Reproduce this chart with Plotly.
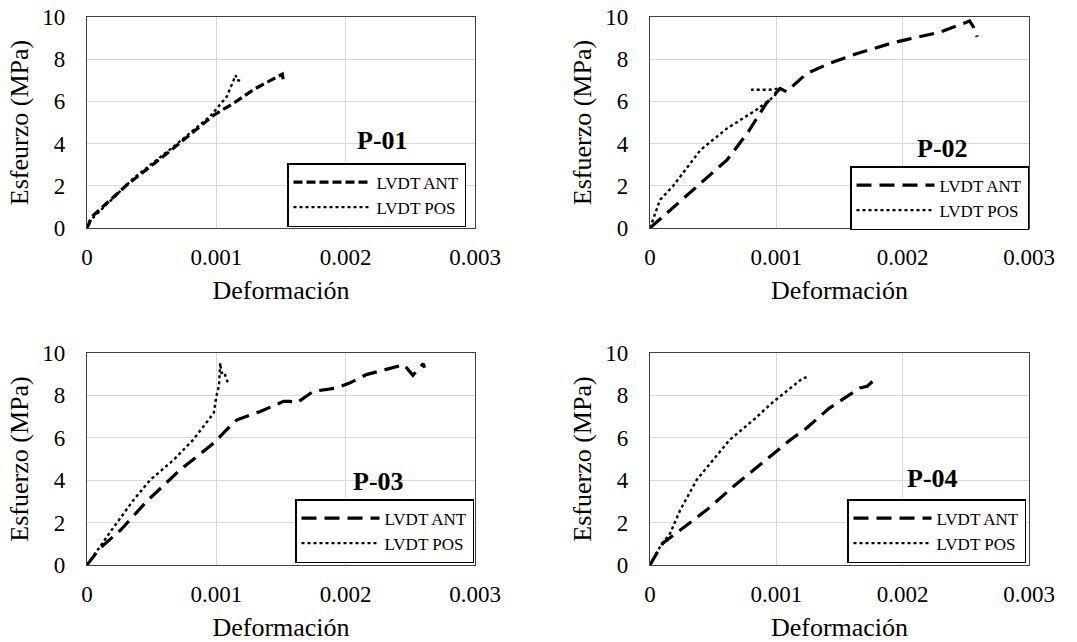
import plotly.graph_objects as go

FONT = "Liberation Serif"

# ---- data (strain, stress MPa) ----
p01_ant_x = [0, 0.00004, 0.00031, 0.00062, 0.00098, 0.00113, 0.00129, 0.00139, 0.00151, 0.00152]
p01_ant_y = [0, 0.55, 2.05, 3.54, 5.35, 5.90, 6.57, 6.88, 7.29, 6.93]
p01_pos_x = [0, 0.000005, 0.00036, 0.00067, 0.00095, 0.00108, 0.00115, 0.00116, 0.00119]
p01_pos_y = [0, 0.24, 2.36, 3.86, 5.28, 6.22, 7.24, 7.00, 6.98]

p02_ant_x = [0, 0.000105, 0.00037, 0.00061, 0.00077, 0.00092, 0.00103, 0.00108, 0.00124, 0.00142,
             0.00164, 0.0019, 0.00203, 0.0023, 0.00253, 0.00256, 0.00259]
p02_ant_y = [0, 0.55, 1.97, 3.23, 4.49, 5.90, 6.61, 6.46, 7.32, 7.80,
             8.27, 8.74, 8.93, 9.29, 9.81, 9.53, 9.06]
p02_pos_x = [0, 0.00008, 0.00018, 0.0004, 0.00061, 0.00084, 0.00098, 0.00103, 0.00095, 0.0008]
p02_pos_y = [0, 1.34, 1.97, 3.70, 4.72, 5.59, 6.22, 6.62, 6.55, 6.55]

p03_ant_x = [0, 0.0001, 0.00026, 0.00046, 0.00072, 0.00098, 0.00108, 0.00116, 0.00134, 0.00152,
             0.00157, 0.00162, 0.00175, 0.00188, 0.00193, 0.00203, 0.00216, 0.00232, 0.00245,
             0.00252, 0.00258, 0.0026, 0.00261]
p03_ant_y = [0, 0.79, 1.65, 2.99, 4.49, 5.75, 6.38, 6.85, 7.24, 7.72,
             7.72, 7.64, 8.19, 8.30, 8.35, 8.58, 8.98, 9.24, 9.45,
             8.95, 9.40, 9.50, 9.30]
p03_pos_x = [0, 0.0001, 0.0002, 0.00036, 0.00049, 0.00067, 0.00082, 0.00095, 0.00098, 0.001,
             0.00102, 0.00103, 0.00104, 0.00106, 0.00109]
p03_pos_y = [0, 0.87, 1.73, 3.07, 4.02, 4.96, 5.90, 6.93, 7.17, 7.95,
             8.43, 9.53, 9.06, 9.10, 8.58]

p04_ant_x = [0, 0.0001, 0.00024, 0.00045, 0.00066, 0.00092, 0.00111, 0.00124, 0.00142, 0.00156,
             0.00166, 0.00172, 0.00179, 0.0018]
p04_ant_y = [0, 1.02, 1.65, 2.60, 3.70, 4.96, 5.90, 6.46, 7.40, 7.95,
             8.35, 8.43, 8.82, 8.75]
p04_pos_x = [0, 0.00008, 0.00016, 0.00024, 0.00037, 0.0005, 0.00063, 0.00082, 0.00098, 0.00113,
             0.00121, 0.00124]
p04_pos_y = [0, 0.87, 1.50, 2.60, 4.02, 4.96, 5.90, 6.85, 7.72, 8.43,
             8.82, 8.85]

titles = ["P-01", "P-02", "P-03", "P-04"]
y_titles = ["Esfeurzo (MPa)", "Esfuerzo (MPa)", "Esfuerzo (MPa)", "Esfuerzo (MPa)"]
x_title = "Deformación"
x_tickvals = [0, 0.001, 0.002, 0.003]
x_ticktext = ["0", "0.001", "0.002", "0.003"]
y_tickvals = [0, 2, 4, 6, 8, 10]
series_names = ["LVDT ANT", "LVDT POS"]

panels = [
    (p01_ant_x, p01_ant_y, p01_pos_x, p01_pos_y),
    (p02_ant_x, p02_ant_y, p02_pos_x, p02_pos_y),
    (p03_ant_x, p03_ant_y, p03_pos_x, p03_pos_y),
    (p04_ant_x, p04_ant_y, p04_pos_x, p04_pos_y),
]

W, H = 1077, 642
# plot areas in pixels: (left, right, top, bottom)
areas = [(87, 475, 17, 228), (650, 1029, 17, 228), (87, 475, 353, 565), (650, 1029, 353, 565)]
legend_pos = [(287, 163), (850, 166), (295, 499), (847, 499)]
title_pos = [(382, 140), (942, 148), (378, 481), (932, 478)]
ant_dash = ["9px,4px", "15px,8px", "15px,8px", "15px,8px"]

fig = go.Figure()
layout = dict(
    width=W, height=H, margin=dict(l=0, r=0, t=0, b=0, autoexpand=False),
    paper_bgcolor="white", plot_bgcolor="white",
    font=dict(family=FONT, color="black"),
    annotations=[],
)

for i, (ax, ay, px, py) in enumerate(panels):
    n = i + 1
    xa = "x" if n == 1 else f"x{n}"
    ya = "y" if n == 1 else f"y{n}"
    lg = "legend" if n == 1 else f"legend{n}"
    fig.add_trace(go.Scatter(x=ax, y=ay, mode="lines", name=series_names[0],
                             line=dict(color="black", width=3.2, dash=ant_dash[i]),
                             xaxis=xa, yaxis=ya, legend=lg))
    fig.add_trace(go.Scatter(x=px, y=py, mode="lines", name=series_names[1],
                             line=dict(color="black", width=2.4, dash="dot"),
                             xaxis=xa, yaxis=ya, legend=lg))
    l, r, t, b = areas[i]
    xk = "xaxis" if n == 1 else f"xaxis{n}"
    yk = "yaxis" if n == 1 else f"yaxis{n}"
    layout[xk] = dict(
        domain=[l / W, r / W], anchor=ya, range=[0, 0.003], automargin=False,
        tickvals=x_tickvals, ticktext=x_ticktext, ticks="",
        ticklabelstandoff=8,
        tickfont=dict(family=FONT, size=23, color="black"),
        showgrid=True, gridcolor="#d9d9d9", gridwidth=1.2,
        showline=True, linecolor="#404040", linewidth=1.2, mirror=True,
        zeroline=False,
        title=dict(text=x_title, font=dict(family=FONT, size=26, color="black"), standoff=12),
    )
    layout[yk] = dict(
        domain=[1 - b / H, 1 - t / H], anchor=xa, range=[0, 10], automargin=False,
        tickvals=y_tickvals, ticks="",
        ticklabelstandoff=16,
        tickfont=dict(family=FONT, size=23, color="black"),
        showgrid=True, gridcolor="#d9d9d9", gridwidth=1.2,
        showline=True, linecolor="#404040", linewidth=1.2, mirror=True,
        zeroline=False,
        title=dict(text=y_titles[i], font=dict(family=FONT, size=26, color="black"), standoff=6),
    )
    lx, lyp = legend_pos[i]
    layout[lg] = dict(
        x=lx / W, y=1 - lyp / H, xanchor="left", yanchor="top",
        xref="paper", yref="paper",
        bordercolor="black", borderwidth=1.5, bgcolor="white",
        font=dict(family=FONT, size=17, color="black"),
        itemwidth=78, tracegroupgap=0,
    )
    tx, ty = title_pos[i]
    layout["annotations"].append(dict(
        x=tx / W, y=1 - ty / H, xref="paper", yref="paper", showarrow=False,
        xanchor="center", yanchor="middle",
        text=f"<b>{titles[i]}</b>", font=dict(family=FONT, size=26, color="black"),
    ))

fig.update_layout(**layout)
fig.write_html("out.html", config={"displayModeBar": False},
               post_script="document.body.style.margin='0';")
